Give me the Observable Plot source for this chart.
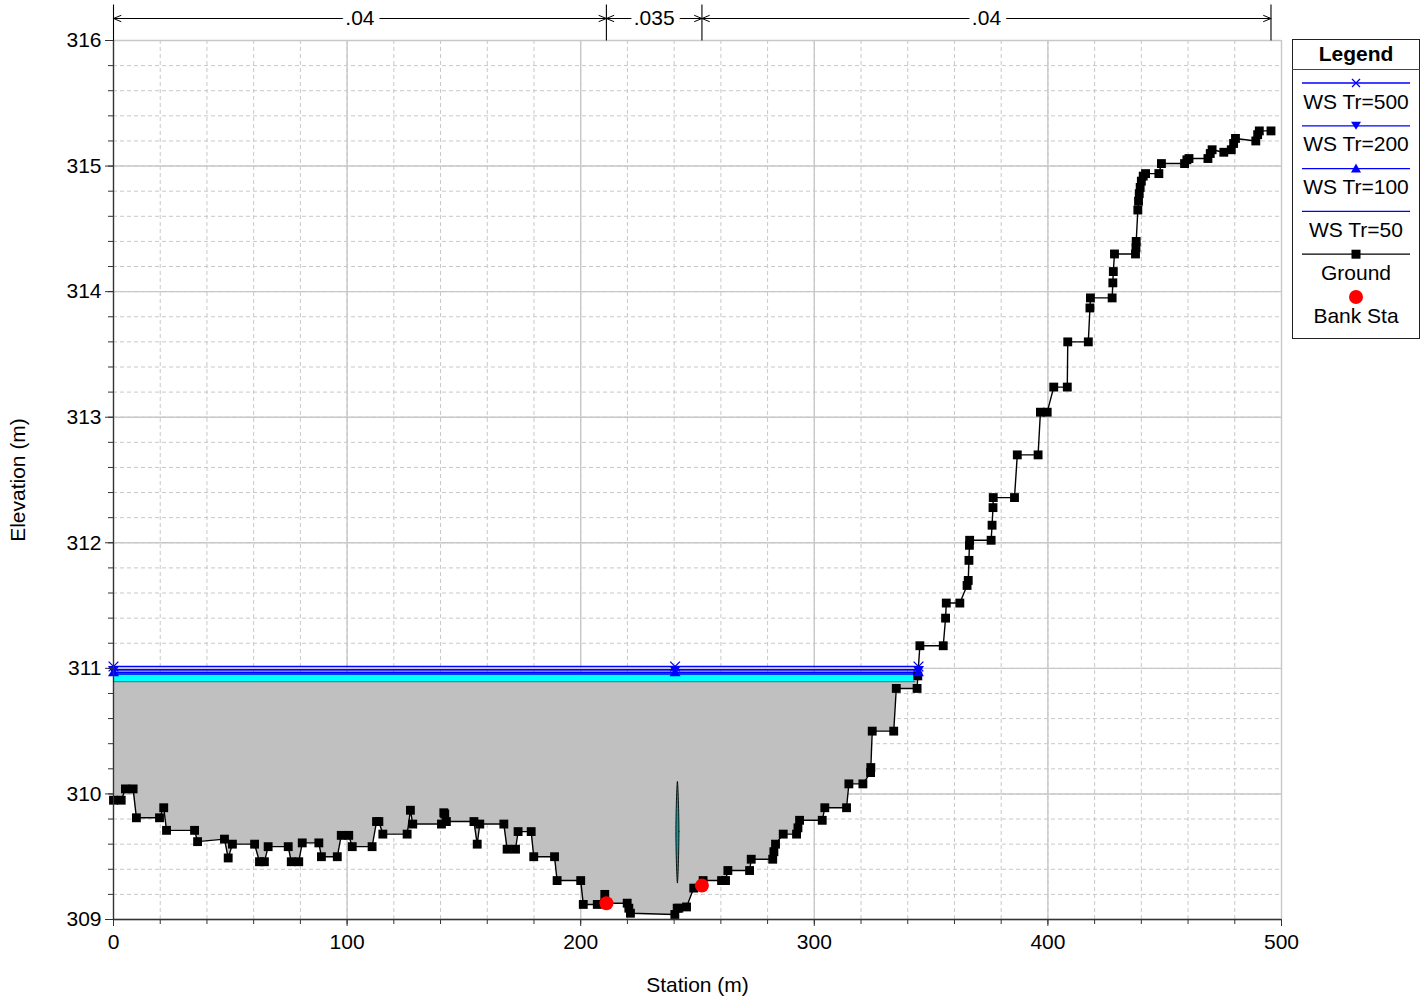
<!DOCTYPE html>
<html><head><meta charset="utf-8">
<script src="https://cdn.jsdelivr.net/npm/d3@7"></script>
<script src="https://cdn.jsdelivr.net/npm/@observablehq/plot@0.6"></script>
<style>
body{margin:0;background:#fff;font-family:"Liberation Sans",Arial,Helvetica,sans-serif;}
#wrap{position:relative;width:1427px;height:1005px;}
#legend{position:absolute;left:1292px;top:39px;}
</style></head><body><div id="wrap"></div>
<script>
// ---- Ground profile (station m, elevation m) ----
const groundStation = [0,3.3,5.1,8.4,9.8,19.7,21.5,22.7,34.7,36.0,47.5,49.1,50.9,60.4,62.5,64.6,66.2,74.8,76.1,79.3,80.8,87.9,89.0,95.8,97.5,100.7,102.2,110.7,112.6,113.6,115.3,125.7,127.1,128.1,140.4,141.4,141.8,142.5,154.3,155.7,156.8,167.1,168.5,172.1,173.2,178.8,179.9,188.8,189.9,200.0,201.1,207.1,210.3,211.0,219.9,220.6,221.3,240.3,241.3,242.0,245.3,248.4,252.4,260.3,262.0,263.0,272.3,273.0,282.2,282.7,283.4,286.7,292.4,293.0,293.7,303.4,304.5,313.8,314.8,320.8,324.1,324.2,324.8,334.0,335.1,344.0,344.3,345.2,355.2,356.2,356.5,362.3,365.4,365.9,366.2,366.4,366.5,375.7,376.1,376.5,376.6,385.7,386.9,395.8,396.8,399.7,402.5,408.3,408.5,417.3,418.0,418.2,427.5,427.8,428.0,428.5,437.5,437.7,437.8,438.5,438.8,439.1,439.5,440.0,440.8,441.8,447.5,448.6,458.5,459.5,460.4,468.5,469.5,470.3,475.3,478.5,479.5,480.3,489.0,489.8,490.5,495.5];
const groundElev = [309.95,309.95,310.04,310.04,309.81,309.81,309.89,309.71,309.71,309.62,309.64,309.49,309.60,309.60,309.46,309.46,309.58,309.58,309.46,309.46,309.61,309.61,309.50,309.50,309.67,309.67,309.58,309.58,309.78,309.78,309.68,309.68,309.87,309.76,309.76,309.85,309.84,309.78,309.78,309.60,309.76,309.76,309.56,309.56,309.70,309.70,309.50,309.50,309.31,309.31,309.12,309.12,309.20,309.13,309.13,309.09,309.05,309.04,309.09,309.09,309.10,309.25,309.31,309.31,309.31,309.39,309.39,309.48,309.48,309.54,309.60,309.68,309.68,309.73,309.79,309.79,309.89,309.89,310.08,310.08,310.17,310.21,310.50,310.50,310.84,310.84,310.94,311.18,311.18,311.40,311.52,311.52,311.66,311.70,311.86,311.98,312.02,312.02,312.14,312.28,312.36,312.36,312.70,312.70,313.04,313.04,313.24,313.24,313.60,313.60,313.87,313.95,313.95,314.07,314.16,314.30,314.30,314.35,314.40,314.65,314.72,314.78,314.83,314.88,314.92,314.94,314.94,315.02,315.02,315.05,315.06,315.06,315.10,315.13,315.11,315.13,315.18,315.22,315.20,315.25,315.28,315.28];

// ---- Bank stations ----
const bankStation = [211.0, 251.9];
const bankElev = [309.13, 309.27];

// ---- Water surfaces ----
const wsNames = ["WS Tr=500", "WS Tr=200", "WS Tr=100", "WS Tr=50"];
const wsElev = [311.015, 310.988, 310.968, 310.955];
const wsExtent = [0, 344.6];
const wsMarkerStations = [0, 240.4, 344.6];
const fillTop = 310.895;          // top of grey fill / bottom of cyan band
const cyanExtent = [0, 343.0];

// ---- Obstruction lens ----
const lensX = [241.4, 242.05, 241.4, 240.75];
const lensY = [310.10, 309.70, 309.29, 309.70];

// ---- Manning's n ----
const nBreaks = [0, 211.0, 251.9, 495.5];
const nValues = [".04", ".035", ".04"];

// ---- Ticks ----
const xMajor = [0, 100, 200, 300, 400, 500];
const xMinor = d3.range(0, 26).map(i => i * 20);
const yMajor = [309, 310, 311, 312, 313, 314, 315, 316];
const yMinor = d3.range(0, 36).map(i => +(309 + i * 0.2).toFixed(1));

// ---- build tables ----
const ground = groundStation.map((s, i) => ({station: s, elev: groundElev[i]}));
const greyFill = ground.filter(d => d.station <= 344.0);
const banks = bankStation.map((s, i) => ({station: s, elev: bankElev[i]}));
const wsLines = wsNames.flatMap((n, i) => wsExtent.map(s => ({name: n, station: s, elev: wsElev[i]})));
const cyan = cyanExtent.map(s => ({station: s}));
const lens = lensX.map((x, i) => ({x, y: lensY[i]}));
const segs = nValues.map((n, i) => ({n, a: nBreaks[i], b: nBreaks[i + 1], m: (nBreaks[i] + nBreaks[i + 1]) / 2}));

const W = 1427, H = 1005, mL = 113, mR = 146, mT = 40, mB = 86;
const pxPerM = (H - mT - mB) / (316 - 309);
const annY = 316 + 22 / pxPerM;
const annTop = 316 + 36 / pxPerM;

const triDown = {draw(ctx, size) {const h = Math.sqrt(size) * 0.62; ctx.moveTo(-h, -h * 0.7); ctx.lineTo(h, -h * 0.7); ctx.lineTo(0, h * 0.95); ctx.closePath();}};
const triUp = {draw(ctx, size) {const h = Math.sqrt(size) * 0.62; ctx.moveTo(-h, h * 0.7); ctx.lineTo(h, h * 0.7); ctx.lineTo(0, -h * 0.95); ctx.closePath();}};

const gridC = "#c8c8c8";
const blue = "#0000ff";

const chart = Plot.plot({
  width: W, height: H,
  marginLeft: mL, marginRight: mR, marginTop: mT, marginBottom: mB,
  x: {domain: [0, 500]},
  y: {domain: [309, 316]},
  style: {fontFamily: '"Liberation Sans", Arial, Helvetica, sans-serif', fontSize: "21px", background: "white", overflow: "visible", color: "black"},
  marks: [
    Plot.gridX({ticks: xMinor, stroke: gridC, strokeOpacity: 1, strokeDasharray: "4,3", strokeWidth: 1}),
    Plot.gridY({ticks: yMinor, stroke: gridC, strokeOpacity: 1, strokeDasharray: "4,3", strokeWidth: 1}),
    Plot.gridX({ticks: xMajor, stroke: gridC, strokeOpacity: 1, strokeWidth: 1.4}),
    Plot.gridY({ticks: yMajor, stroke: gridC, strokeOpacity: 1, strokeWidth: 1.4}),
    // grey fill
    Plot.areaY(greyFill, {x: "station", y1: "elev", y2: () => fillTop, fill: "#c0c0c0"}),
    // cyan band
    Plot.areaY(cyan, {x: "station", y1: () => fillTop, y2: () => wsElev[3], fill: "#00ffff"}),
    Plot.line(cyan, {x: "station", y: () => fillTop, stroke: "#3a8a8a", strokeWidth: 1.2}),
    // water surface lines
    Plot.line(wsLines, {x: "station", y: "elev", z: "name", stroke: blue, strokeWidth: 1.6}),
    // ground
    Plot.line(ground, {x: "station", y: "elev", stroke: "black", strokeWidth: 1.4}),
    Plot.dot(ground, {x: "station", y: "elev", symbol: "square", r: 5, fill: "black", stroke: "none"}),
    // lens
    Plot.line(lens, {x: "x", y: "y", curve: "catmull-rom-closed", fill: "#1c9a9a", stroke: "black", strokeWidth: 0.9}),
    // bank stations
    Plot.dot(banks, {x: "station", y: "elev", r: 7, fill: "red", stroke: "none"}),
    // WS markers
    Plot.dot(wsMarkerStations, {x: d => d, y: () => wsElev[1], symbol: triDown, r: 5, fill: blue}),
    Plot.dot(wsMarkerStations, {x: d => d, y: () => wsElev[2], symbol: triUp, r: 5, fill: blue}),
    Plot.dot(wsMarkerStations, {x: d => d, y: () => wsElev[0], symbol: "times", r: 4.5, stroke: blue, strokeWidth: 1.3}),
    // axes
    Plot.axisX({ticks: xMinor, tickSize: 5, tickFormat: () => "", label: null, stroke: "#333"}),
    Plot.axisX({ticks: xMajor, tickSize: 7, tickPadding: 8, label: null, stroke: "#333", fontSize: 21, tickFormat: d3.format("d")}),
    Plot.axisY({ticks: yMinor, tickSize: 5, tickFormat: () => "", label: null, stroke: "#333"}),
    Plot.axisY({ticks: yMajor, tickSize: 8, tickPadding: 4, label: null, stroke: "#333", fontSize: 21, tickFormat: d3.format("d")}),
    Plot.ruleX([0], {stroke: "#333", strokeWidth: 1.3}),
    Plot.ruleY([309], {stroke: "#333", strokeWidth: 1.3}),
    Plot.text(["Station (m)"], {frameAnchor: "bottom", dy: 66, lineAnchor: "middle", textAnchor: "middle", fontSize: 21}),
    Plot.text(["Elevation (m)"], {frameAnchor: "left", dx: -95, rotate: -90, lineAnchor: "middle", textAnchor: "middle", fontSize: 21}),
    // Manning's n annotation
    Plot.link(nBreaks, {x1: d => d, x2: d => d, y1: () => 316, y2: () => annTop, stroke: "black", strokeWidth: 1.1}),
    Plot.arrow(segs, {x1: "m", x2: "a", y1: () => annY, y2: () => annY, stroke: "black", strokeWidth: 1, headLength: 12, headAngle: 45}),
    Plot.arrow(segs, {x1: "m", x2: "b", y1: () => annY, y2: () => annY, stroke: "black", strokeWidth: 1, headLength: 12, headAngle: 45}),
    Plot.text(segs, {x: "m", y: () => annY, text: "n", fill: "black", stroke: "white", strokeWidth: 12, paintOrder: "stroke", fontSize: 21, lineAnchor: "middle"})
  ]
});
document.getElementById("wrap").appendChild(chart);

// ---- Legend ----
const lg = d3.select("#wrap").append("svg").attr("id", "legend").attr("width", 129).attr("height", 301)
  .style("font-family", '"Liberation Sans", Arial, Helvetica, sans-serif');
lg.append("rect").attr("x", 0.5).attr("y", 0.5).attr("width", 127).attr("height", 299).attr("fill", "white").attr("stroke", "#222");
lg.append("text").attr("x", 64).attr("y", 14).attr("text-anchor", "middle").attr("dominant-baseline", "central")
  .attr("font-size", 21).attr("font-weight", "bold").text("Legend");
lg.append("line").attr("x1", 0).attr("x2", 128).attr("y1", 30.5).attr("y2", 30.5).attr("stroke", "#444");
const legItems = [
  {label: wsNames[0], color: blue, mk: "x"},
  {label: wsNames[1], color: blue, mk: "down"},
  {label: wsNames[2], color: blue, mk: "up"},
  {label: wsNames[3], color: blue, mk: null},
  {label: "Ground", color: "black", mk: "sq"},
  {label: "Bank Sta", color: "red", mk: "dot"}
];
legItems.forEach((d, i) => {
  const ly = 44 + i * 42.8, ty = 62 + i * 42.8;
  if (d.mk !== "dot") lg.append("line").attr("x1", 10).attr("x2", 118).attr("y1", ly).attr("y2", ly).attr("stroke", d.color).attr("stroke-width", 1.3);
  const g = lg.append("g").attr("transform", `translate(64,${ly})`);
  if (d.mk === "x") g.append("path").attr("d", "M-4,-4L4,4M-4,4L4,-4").attr("stroke", blue).attr("stroke-width", 1.3);
  if (d.mk === "down") g.append("path").attr("d", "M-5,-4L5,-4L0,4Z").attr("fill", blue);
  if (d.mk === "up") g.append("path").attr("d", "M-5,4L5,4L0,-5Z").attr("fill", blue);
  if (d.mk === "sq") g.append("rect").attr("x", -4.5).attr("y", -4.5).attr("width", 9).attr("height", 9).attr("fill", "black");
  if (d.mk === "dot") g.append("circle").attr("r", 7).attr("fill", "red");
  lg.append("text").attr("x", 64).attr("y", ty).attr("text-anchor", "middle").attr("dominant-baseline", "central")
    .attr("font-size", 21).text(d.label);
});
</script></body></html>
